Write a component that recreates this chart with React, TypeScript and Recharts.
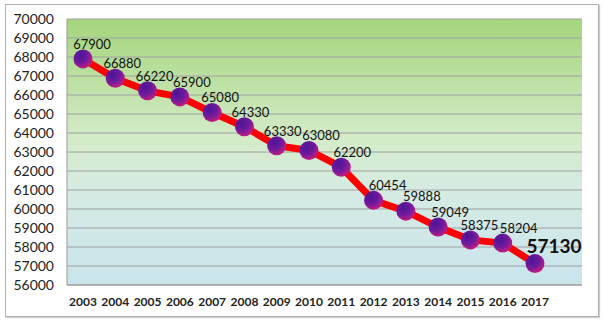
import React from 'react';
import { LineChart, Line, XAxis, YAxis, CartesianGrid, LabelList } from 'recharts';

const years = ['2003', '2004', '2005', '2006', '2007', '2008', '2009', '2010', '2011', '2012', '2013', '2014', '2015', '2016', '2017'];
const values = [67900, 66880, 66220, 65900, 65080, 64330, 63330, 63080, 62200, 60454, 59888, 59049, 58375, 58204, 57130];
const yTicks = [56000, 57000, 58000, 59000, 60000, 61000, 62000, 63000, 64000, 65000, 66000, 67000, 68000, 69000, 70000];

// horizontal nudge of each value label, as in the original
const labelDx = [9, 7, 7, 12, 8, 6, 6, 12, 11, 14, 16, 12, 9, 16, 19];

const data = years.map((year, i) => ({ year, value: values[i] }));

const FONT = 'Lato, "Open Sans", sans-serif';

// purple ball marker
const Ball = (props: any) => {
  const { cx, cy } = props;
  if (cx == null || cy == null) return null;
  return <circle cx={cx} cy={cy} r={9.5} fill="url(#ball)" />;
};

const ValueLabel = (props: any) => {
  const { x, y, value, index } = props;
  const last = index === values.length - 1;
  return (
    <text
      x={x + labelDx[index]}
      y={y - (last ? 11 : 10)}
      textAnchor="middle"
      fontFamily={FONT}
      fontSize={last ? 19 : 13}
      fontWeight={last ? 700 : 400}
      fill="#111"
    >
      {value}
    </text>
  );
};

const App: React.FC = () => {
  return (
    <div style={{ position: 'absolute', left: 0, top: 0, width: 604, height: 322, background: '#fff' }}>
      <svg width={0} height={0} style={{ position: 'absolute' }}>
        <defs>
          <linearGradient id="bg" x1="0" y1="0" x2="0" y2="1">
            <stop offset="0%" stopColor="#a4d57c" />
            <stop offset="45%" stopColor="#d4ebc8" />
            <stop offset="65%" stopColor="#d6ebe4" />
            <stop offset="100%" stopColor="#c9e4ec" />
          </linearGradient>
          <radialGradient id="ball" cx="0.35" cy="0.3" r="0.8">
            <stop offset="0%" stopColor="#4e1496" />
            <stop offset="50%" stopColor="#6e1a9c" />
            <stop offset="100%" stopColor="#d81e78" />
          </radialGradient>
        </defs>
      </svg>
      <div
        style={{
          position: 'absolute',
          left: 5,
          top: 4,
          width: 592,
          height: 311,
          border: '1px solid #b0b0b0',
          boxShadow: '1px 1px 1px #ccc',
        }}
      />
      <div style={{ position: 'absolute', left: 0, top: 0 }}>
        <LineChart width={604} height={322} data={data} margin={{ top: 19, right: 22, bottom: 7, left: 0 }}>
          <CartesianGrid vertical={false} stroke="#a0a0a0" strokeWidth={1} fill="url(#bg)" />
          <XAxis
            dataKey="year"
            height={30}
            padding={{ left: 16, right: 47 }}
            axisLine={{ stroke: '#9a9a9a' }}
            tickLine={false}
            tickSize={0}
            tickMargin={12}
            tick={{ fontFamily: FONT, fontSize: 12, fontWeight: 700, fill: '#222' }}
            interval={0}
          />
          <YAxis
            width={67}
            domain={[56000, 70000]}
            ticks={yTicks}
            axisLine={{ stroke: '#9a9a9a' }}
            tickLine={false}
            tickSize={0}
            tickMargin={13}
            tick={{ fontFamily: FONT, fontSize: 14, fill: '#222' }}
            interval={0}
          />
          <Line
            type="linear"
            dataKey="value"
            stroke="#ff0000"
            strokeWidth={7}
            dot={<Ball />}
            activeDot={false}
            isAnimationActive={false}
          >
            <LabelList dataKey="value" content={<ValueLabel />} />
          </Line>
        </LineChart>
      </div>
    </div>
  );
};

export default App;
